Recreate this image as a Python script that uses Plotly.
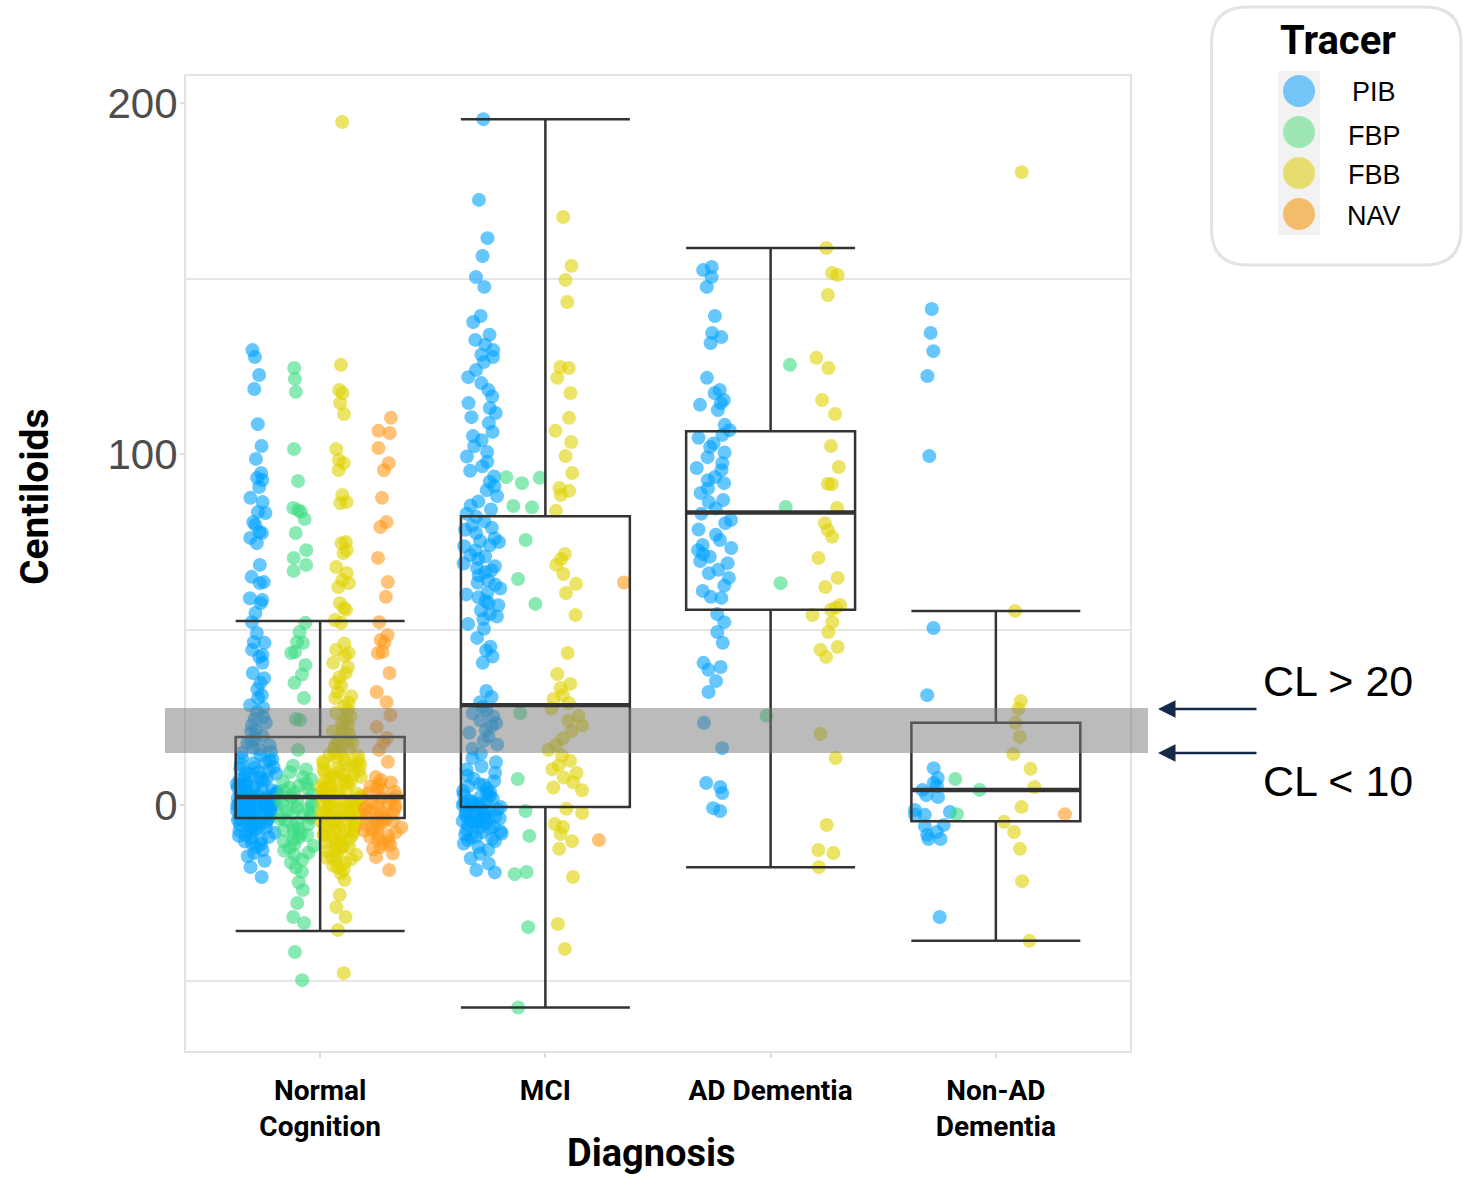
import plotly.graph_objects as go

# ---------------------------------------------------------------------------
# Data: Centiloid values by diagnosis group and amyloid PET tracer
# ---------------------------------------------------------------------------
diagnoses = ["Normal<br>Cognition", "MCI", "AD Dementia", "Non-AD<br>Dementia"]
tracers = ["PIB", "FBP", "FBB", "NAV"]

nc_pib = [129.6, 127.6, 122.5, 118.5, 108.5, 102.3, 98.6, 94.6, 93.2, 92.6, 90.6, 87.5,
          86.3, 83.5, 83.2, 80.6, 79.8, 77.8, 77.5, 76.1, 74.6, 68.4, 65.0, 63.5, 63.2,
          58.9, 58.4, 57.5, 54.7, 52.1, 49.0, 46.4, 46.2, 44.2, 42.7, 42.2, 40.5, 37.6,
          36.1, 34.8, 33.0, 31.3, 30.5, 28.4, 27.7, 26.5, 25.1, 24.6, 23.4, 22.8, 21.4,
          20.9, 19.7, 19.1, 18.2, 17.6, 16.3, 15.8, 14.9, 14.2, 13.5, 12.7, 12.1, 11.6,
          10.8, 10.3, 9.9, 9.2, 8.7, 8.1, 7.8, 7.3, 6.9, 6.4, 6.0, 5.7, 5.2, 4.9, 4.5,
          4.0, 3.8, 3.3, 3.1, 2.7, 2.4, 2.0, 1.8, 1.5, 1.2, 0.9, 0.6, 0.4, 0.1, -0.2,
          -0.5, -0.7, -1.0, -1.3, -1.6, -1.9, -2.2, -2.5, -2.9, -3.2, -3.4, -3.8, -4.1,
          -4.5, -4.9, -5.2, -5.6, -6.1, -6.5, -7.0, -7.4, -7.9, -8.5, -9.1, -9.8, -10.4,
          -11.2, -12.0, -12.8, -13.7, -14.6, -15.9, -17.7, -20.5,
          11.9, 10.6, 9.4, 8.9, 7.5, 6.7, 5.9, 5.4, 4.7, 4.2, 3.6, 2.9, 2.2, 1.6, 1.0,
          0.3, -0.1, -0.9, -1.4, -2.0, -2.6, -3.0, -3.6, -4.3, -4.7, -5.4, -5.9, -6.8,
          -7.6, -8.8, -9.5, -11.0, 17.0, 15.2, 13.0, 0.7, -1.1, 2.5, 1.3, -2.7]
nc_fbp = [124.5, 121.4, 117.7, 101.4, 92.3, 84.6, 84.0, 83.5, 81.5, 77.5, 72.6, 70.4,
          68.4, 66.7, 51.9, 49.3, 46.4, 46.2, 43.6, 43.3, 39.9, 37.2, 34.8, 30.5, 24.5,
          24.2, 15.7, 11.2, 10.1, 9.4, 8.0, 7.3, 6.2, 5.5, 4.6, 4.1, 3.2, 2.5, 1.9, 1.1,
          0.6, -0.2, -0.8, -1.5, -2.3, -2.9, -3.7, -4.4, -5.1, -6.0, -6.8, -7.5, -8.6,
          -9.3, -10.4, -11.1, -12.3, -13.0, -14.2, -15.6, -16.4, -17.9, -19.0, -22.0,
          -24.2, -27.9, -31.9, -33.6, -41.9, -49.9,
          3.6, 2.0, 0.2, -1.1, -2.6, -3.3, -4.0, -5.5, -7.1, -8.2, -9.8, -11.7, 5.0, 6.6,
          -13.6]
nc_fbb = [194.6, 125.4, 118.2, 117.4, 114.5, 111.4, 101.4, 98.3, 97.4, 95.4, 88.3, 86.3,
          86.0, 74.9, 74.6, 72.6, 71.8, 67.8, 66.1, 64.1, 63.2, 62.1, 57.5, 56.1, 55.6,
          52.7, 51.9, 46.0, 44.2, 43.3, 42.5, 40.5, 39.3, 37.6, 36.4, 34.8, 33.9, 32.2,
          31.0, 30.5, 29.2, 28.1, 27.0, 26.3, 25.2, 24.4, 23.5, 22.7, 21.9, 21.0, 20.4,
          19.6, 19.0, 18.3, 17.7, 17.1, 16.4, 15.9, 15.2, 14.8, 14.1, 13.5, 13.0, 12.4,
          11.9, 11.3, 10.9, 10.2, 9.8, 9.3, 8.7, 8.4, 7.8, 7.4, 6.9, 6.6, 6.0, 5.6, 5.3,
          4.7, 4.4, 3.9, 3.5, 3.0, 2.6, 2.2, 1.8, 1.3, 1.0, 0.5, 0.2, -0.3, -0.6, -1.1,
          -1.4, -1.9, -2.3, -2.6, -3.1, -3.5, -3.8, -4.4, -4.8, -5.2, -5.7, -6.1, -6.6,
          -7.0, -7.6, -8.1, -8.7, -9.2, -9.9, -10.5, -11.0, -11.8, -12.5, -13.1, -13.9,
          -14.7, -15.5, -16.4, -17.3, -18.4, -19.5, -21.4, -25.6, -29.1, -31.9, -35.6,
          -47.9,
          16.0, 14.4, 12.8, 11.5, 10.5, 9.5, 8.0, 7.1, 6.3, 5.1, 4.2, 3.3, 2.4, 1.5, 0.7,
          0.0, -0.8, -1.6, -2.1, -2.9, -3.3, -4.1, -4.6, -5.4, -6.3, -6.9, -7.3, -8.4,
          -9.0, -9.6, -10.8, -12.0, -12.8, -14.2, -15.0, -16.0, -17.8, 3.7, 1.1, -2.0,
          -5.0, 8.9, 12.2]
nc_nav = [110.3, 106.6, 106.0, 101.7, 97.4, 95.4, 87.5, 80.6, 79.2, 70.4, 63.5, 59.3,
          52.1, 48.4, 47.0, 46.2, 43.6, 43.3, 37.6, 32.2, 29.3, 25.6, 22.2, 19.1, 17.9,
          15.7, 12.3, 8.0, 7.1, 5.9, 4.8, 4.2, 3.3, 2.5, 1.6, 0.9, 0.2, -0.6, -1.3, -2.0,
          -2.7, -3.5, -4.1, -4.9, -5.6, -6.4, -7.3, -8.2, -9.1, -10.3, -11.4, -12.6,
          -13.8, -14.8, -18.5,
          3.8, 2.0, 0.5, -0.2, -1.0, -1.7, -2.4, -3.1, -3.9, -4.5, -5.2, -6.0, -6.9,
          -7.8, -8.7, -9.6, 6.4, 5.3, -11.0, -12.0]

mci_pib = [195.4, 172.4, 161.5, 156.4, 150.4, 147.6, 139.3, 137.6, 134.0, 132.5, 131.1,
           129.6, 128.3, 127.6, 126.2, 123.9, 121.9, 120.2, 118.2, 116.4, 114.5, 113.1,
           111.7, 110.5, 108.8, 106.3, 105.1, 103.9, 102.2, 100.6, 99.3, 97.8, 96.5,
           95.2, 93.6, 92.1, 90.8, 89.7, 88.0, 86.5, 85.3, 84.2, 83.0, 82.1, 80.8, 79.6,
           78.4, 77.5, 76.0, 74.9, 73.7, 72.5, 71.2, 70.1, 68.8, 67.5, 66.3, 65.4, 64.0,
           62.8, 61.7, 60.5, 59.2, 58.1, 56.9, 55.5, 54.4, 53.0, 51.6, 50.2, 47.6, 45.1,
           44.0, 42.3, 40.5, 32.5, 30.8, 29.3, 27.9, 27.0, 26.1, 25.2, 24.1, 23.3, 22.5,
           21.4, 20.6, 19.5, 18.3, 17.2, 16.0, 14.6, 13.4, 12.2, 11.0, 10.1, 9.2, 8.4,
           7.5, 6.8, 6.0, 5.3, 4.6, 4.0, 3.4, 2.9, 2.3, 1.8, 1.3, 0.9, 0.4, 0.0, -0.4,
           -0.8, -1.2, -1.6, -2.0, -2.4, -2.8, -3.2, -3.6, -4.0, -4.4, -4.8, -5.2, -5.7,
           -6.2, -6.7, -7.2, -7.8, -8.4, -9.0, -9.6, -10.3, -11.0, -11.9, -12.8, -13.9,
           -15.2, -16.7, -18.5, -19.2,
           1.1, 0.2, -0.6, -1.4, -2.2, -3.0, -3.8, -4.6, -5.4, -6.4, -7.5, -8.1, -9.3,
           -10.0, 2.6, 3.7, 5.6, -4.2, -1.8, 0.6, 79.0, 75.2, 70.8, 66.9, 63.3, 57.5,
           53.7, 74.0, 68.0, 60.0]
mci_fbp = [93.4, 93.2, 91.7, 85.2, 84.8, 75.5, 64.4, 57.3, 26.2, 7.4, -1.7, -8.8, -19.1,
           -19.7, -34.8, -57.7]
mci_fbb = [167.5, 153.6, 149.6, 143.3, 124.8, 124.5, 121.7, 117.4, 110.3, 106.6, 103.4,
           99.4, 94.6, 90.3, 89.5, 88.3, 83.8, 71.5, 70.1, 68.4, 65.8, 63.0, 60.4, 54.1,
           43.3, 37.3, 34.5, 33.3, 31.3, 30.2, 29.0, 27.5, 25.4, 24.0, 22.6, 21.1, 19.0,
           17.1, 15.7, 14.0, 12.6, 11.3, 10.2, 9.1, 7.8, 6.5, 5.0, 4.2, -1.1, -2.3, -5.4,
           -6.3, -8.3, -10.3, -12.5, -20.5, -33.9, -41.0]
mci_nav = [63.4, -10.0]

ad_pib = [153.3, 152.4, 150.4, 147.6, 139.3, 134.5, 133.3, 131.6, 121.7, 118.2, 117.4,
          115.4, 114.5, 114.0, 112.5, 108.3, 106.8, 105.5, 104.6, 103.0, 102.0, 100.4,
          99.1, 97.4, 96.0, 95.4, 93.4, 92.5, 91.7, 90.2, 88.9, 86.9, 86.3, 84.5, 83.0,
          81.2, 80.3, 78.5, 77.0, 75.5, 74.1, 73.2, 72.6, 71.5, 70.7, 69.5, 68.9, 67.0,
          66.0, 64.7, 62.5, 61.0, 59.3, 59.0, 54.4, 52.1, 49.3, 46.2, 40.5, 39.3, 38.5,
          35.3, 32.2, 23.4, 16.2, 6.3, 5.1, 3.4, -0.9, -1.7]
ad_fbp = [125.4, 84.9, 63.2, 25.4]
ad_fbb = [158.7, 151.6, 151.0, 145.3, 127.4, 124.5, 115.4, 111.4, 102.3, 96.3, 91.5, 91.4,
          84.6, 80.3, 78.3, 76.4, 70.4, 64.7, 62.1, 57.0, 56.2, 55.6, 54.1, 52.1, 49.3,
          45.0, 44.2, 42.2, 20.2, 13.4, -5.7, -12.8, -13.7, -17.7]
ad_nav = []

nonad_pib = [141.3, 134.5, 129.3, 122.2, 99.4, 50.4, 31.3, 10.5, 7.7, 6.3, 5.4, 4.3, 2.8,
             2.3, -1.4, -2.0, -2.8, -2.8, -5.7, -6.0, -7.7, -8.5, -9.7, -9.7, -31.9]
nonad_fbp = [7.4, 4.3, -2.6]
nonad_fbb = [180.3, 55.3, 29.6, 27.4, 23.4, 19.4, 14.5, 10.3, 5.1, -0.6, -4.8, -7.7,
             -12.5, -21.7, -38.7]
nonad_nav = [-2.6]

# Box-plot summary per diagnosis group (all tracers pooled)
box_q1 = [-3.7, -0.6, 55.6, -4.6]
box_median = [2.3, 28.4, 83.3, 4.3]
box_q3 = [19.4, 82.3, 106.5, 23.4]
box_lower = [-35.9, -57.7, -17.7, -38.7]
box_upper = [52.4, 195.4, 158.7, 55.3]

tracer_colors = {"PIB": "#00A2FF", "FBP": "#3CDC82", "FBB": "#E0D200", "NAV": "#FF9A1A"}
legend_colors = {"PIB": "#75C4F7", "FBP": "#9DE7B4", "FBB": "#E7DD6E", "NAV": "#F3BC6A"}

groups = [
    {"PIB": nc_pib, "FBP": nc_fbp, "FBB": nc_fbb, "NAV": nc_nav},
    {"PIB": mci_pib, "FBP": mci_fbp, "FBB": mci_fbb, "NAV": mci_nav},
    {"PIB": ad_pib, "FBP": ad_fbp, "FBB": ad_fbb, "NAV": ad_nav},
    {"PIB": nonad_pib, "FBP": nonad_fbp, "FBB": nonad_fbb, "NAV": nonad_nav},
]

# ---------------------------------------------------------------------------
# Layout geometry (pixels) of the 1463 x 1177 canvas
# ---------------------------------------------------------------------------
W, H = 1463, 1177
PL, PR, PT, PB = 185, 1131, 75, 1052          # plot-area edges
BOX_WIDTH = 0.75                               # full dodge width per diagnosis
JITTER_WIDTH = 0.18


def px_x(px):
    return (px - PL) / (PR - PL)


def px_y(py):
    return (PB - py) / (PB - PT)


fig = go.Figure()

# jittered points, dodged by tracer inside each diagnosis group
for tr in tracers:
    xs, ys = [], []
    for gi, grp in enumerate(groups):
        present = [t for t in tracers if len(grp[t]) > 0]
        if tr not in present:
            continue
        k = present.index(tr)
        n = len(present)
        pos = gi - BOX_WIDTH / 2 + (k + 0.5) * BOX_WIDTH / n
        xs += [pos] * len(grp[tr])
        ys += grp[tr]
    fig.add_trace(go.Box(
        x=xs, y=ys, name=tr, boxpoints="all", jitter=1, pointpos=0,
        width=JITTER_WIDTH, fillcolor="rgba(0,0,0,0)",
        line=dict(width=0, color="rgba(0,0,0,0)"), whiskerwidth=0,
        marker=dict(color=tracer_colors[tr], size=14, opacity=0.6, line=dict(width=0)),
        showlegend=False, hoverinfo="y",
    ))

# pooled box plots
fig.add_trace(go.Box(
    x=list(range(len(diagnoses))), q1=box_q1, median=box_median, q3=box_q3,
    lowerfence=box_lower, upperfence=box_upper, boxpoints=False,
    width=BOX_WIDTH, whiskerwidth=1, fillcolor="rgba(0,0,0,0)",
    line=dict(color="#333333", width=2.5), showlegend=False, hoverinfo="skip",
))

# heavier median bars
med_x, med_y = [], []
for gi, m in enumerate(box_median):
    med_x += [gi - BOX_WIDTH / 2, gi + BOX_WIDTH / 2, None]
    med_y += [m, m, None]
fig.add_trace(go.Scatter(x=med_x, y=med_y, mode="lines",
                         line=dict(color="#333333", width=4.5),
                         showlegend=False, hoverinfo="skip"))

shapes = []
# panel border
shapes.append(dict(type="rect", xref="paper", yref="paper", x0=0, x1=1, y0=0, y1=1,
                   line=dict(color="#E3E3E3", width=2), layer="below"))
# grey threshold band across the panel
shapes.append(dict(type="rect", xref="paper", yref="paper",
                   x0=px_x(165), x1=px_x(1148), y0=px_y(753), y1=px_y(708),
                   fillcolor="rgba(120,120,120,0.5)", line=dict(width=0), layer="above"))

# legend frame (rounded rectangle)
lx0, lx1, ly0, ly1, r = 1211.5, 1461, 7, 265, 36
pts = [
    ("M", lx0 + r, ly0), ("L", lx1 - r, ly0), ("Q", lx1, ly0, lx1, ly0 + r),
    ("L", lx1, ly1 - r), ("Q", lx1, ly1, lx1 - r, ly1), ("L", lx0 + r, ly1),
    ("Q", lx0, ly1, lx0, ly1 - r), ("L", lx0, ly0 + r), ("Q", lx0, ly0, lx0 + r, ly0),
]
path = ""
for seg in pts:
    cmd, coords = seg[0], seg[1:]
    pairs = [f"{px_x(coords[i]):.5f},{px_y(coords[i + 1]):.5f}" for i in range(0, len(coords), 2)]
    path += cmd + " ".join(pairs) + " "
path += "Z"
shapes.append(dict(type="path", xref="paper", yref="paper", path=path,
                   line=dict(color="#E3E3E3", width=3), fillcolor="white", layer="above"))
# legend key background
shapes.append(dict(type="rect", xref="paper", yref="paper",
                   x0=px_x(1278), x1=px_x(1320), y0=px_y(235), y1=px_y(71),
                   fillcolor="#F2F2F2", line=dict(width=0), layer="above"))

annotations = []
key_y = [91, 132, 173, 214]
label_y = [92, 136, 175, 216]
for tr, ky, ty in zip(tracers, key_y, label_y):
    shapes.append(dict(type="circle", xref="paper", yref="paper",
                       x0=px_x(1299 - 16), x1=px_x(1299 + 16),
                       y0=px_y(ky + 16), y1=px_y(ky - 16),
                       fillcolor=legend_colors[tr], line=dict(width=0), layer="above"))
    annotations.append(dict(x=px_x(1374), y=px_y(ty), xref="paper", yref="paper",
                            text=tr, showarrow=False, xanchor="center", yanchor="middle",
                            font=dict(family="Liberation Sans", size=27, color="black")))
annotations.append(dict(x=px_x(1338), y=px_y(40), xref="paper", yref="paper",
                        text="<b>Tracer</b>", showarrow=False, xanchor="center",
                        yanchor="middle", font=dict(family="Roboto", size=40, color="black")))

# axis titles
annotations.append(dict(x=px_x(651), y=px_y(1153), xref="paper", yref="paper",
                        text="<b>Diagnosis</b>", showarrow=False, xanchor="center",
                        yanchor="middle", font=dict(family="Roboto", size=38, color="black")))
annotations.append(dict(x=px_x(35), y=px_y(497), xref="paper", yref="paper",
                        text="<b>Centiloids</b>", showarrow=False, textangle=-90,
                        xanchor="center", yanchor="middle",
                        font=dict(family="Roboto", size=39, color="black")))

# threshold arrows and labels
for ay_px in (709, 753):
    annotations.append(dict(x=px_x(1158), y=px_y(ay_px), xref="paper", yref="paper",
                            ax=100, ay=0, text="", showarrow=True, arrowhead=2,
                            arrowsize=1.4, arrowwidth=2.5, arrowcolor="#14294A"))
annotations.append(dict(x=px_x(1261), y=px_y(681), xref="paper", yref="paper",
                        text="CL &gt; 20", showarrow=False, xanchor="left", yanchor="middle",
                        font=dict(family="Liberation Sans", size=43, color="black")))
annotations.append(dict(x=px_x(1261), y=px_y(781), xref="paper", yref="paper",
                        text="CL &lt; 10", showarrow=False, xanchor="left", yanchor="middle",
                        font=dict(family="Liberation Sans", size=43, color="black")))

y_lo = (805 - PB) / 3.51
y_hi = (805 - PT) / 3.51

fig.update_layout(
    width=W, height=H,
    margin=dict(l=PL, r=W - PR, t=PT, b=H - PB, pad=0),
    paper_bgcolor="white", plot_bgcolor="white",
    showlegend=False, hovermode="closest",
    boxmode="overlay",
    shapes=shapes, annotations=annotations,
    xaxis=dict(
        type="linear", range=[-0.6, 3.6], tickmode="array",
        tickvals=list(range(len(diagnoses))), ticktext=diagnoses,
        tickfont=dict(family="Roboto", size=28, color="black", weight="bold"),
        ticks="outside", ticklen=5, tickwidth=1.5, tickcolor="#DDDDDD",
        ticklabelstandoff=8,
        showgrid=False, zeroline=False, showline=False,
    ),
    yaxis=dict(
        range=[y_lo, y_hi], tickmode="array", tickvals=[0, 100, 200],
        tickfont=dict(family="Liberation Sans", size=42, color="#4D4D4D"),
        ticks="outside", ticklen=4, tickwidth=1.5, tickcolor="#DDDDDD",
        ticklabelstandoff=-6,
        showgrid=False, zeroline=False, showline=False,
        minor=dict(tickmode="array", tickvals=[-50, 50, 150], showgrid=True,
                   gridcolor="#E6E6E6", gridwidth=1.5, ticks=""),
    ),
)

fig.write_html("out.html")
